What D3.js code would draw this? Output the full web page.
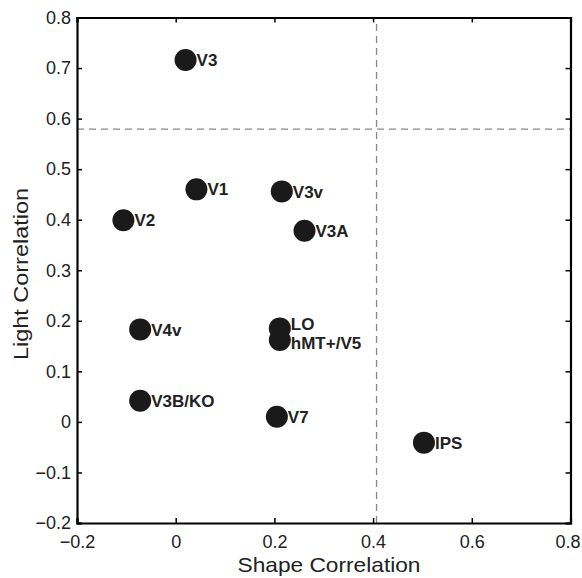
<!DOCTYPE html>
<html>
<head>
<meta charset="utf-8">
<script src="https://cdn.jsdelivr.net/npm/d3@7"></script>
<style>
  body { margin: 0; background: #fff; }
  text { font-family: "Liberation Sans", Arial, sans-serif; }
</style>
</head>
<body>
<div id="chart"></div>
<script>
// region data
var areas = ['V3', 'V1', 'V3v', 'V2', 'V3A', 'V4v', 'LO', 'hMT+/V5', 'V3B/KO', 'V7', 'IPS'];
var shapeCorr = [0.020, 0.042, 0.215, -0.106, 0.261, -0.072, 0.211, 0.211, -0.072, 0.205, 0.503];
var lightCorr = [0.716, 0.460, 0.456, 0.399, 0.378, 0.183, 0.185, 0.162, 0.042, 0.010, -0.041];
var xTicks = [-0.2, 0, 0.2, 0.4, 0.6, 0.8];
var yTicks = [-0.2, -0.1, 0, 0.1, 0.2, 0.3, 0.4, 0.5, 0.6, 0.7, 0.8];
var xThreshold = 0.407;
var yThreshold = 0.579;

var width = 582, height = 578;
var margin = { top: 17.5, right: 11.5, bottom: 55, left: 77 };

var svg = d3.select('#chart')
    .append('svg')
    .attr('width', width)
    .attr('height', height);

var x = d3.scaleLinear().domain([-0.2, 0.8]).range([margin.left, width - margin.right]);
var y = d3.scaleLinear().domain([-0.2, 0.8]).range([height - margin.bottom, margin.top]);

var fmt = function(d) { return d === 0 ? '0' : d3.format('.1f')(d); };

// dashed threshold lines
svg.append('line')
    .attr('x1', x(-0.2)).attr('x2', x(0.8))
    .attr('y1', y(yThreshold)).attr('y2', y(yThreshold))
    .attr('stroke', '#888').attr('stroke-width', 1.3)
    .attr('stroke-dasharray', '7,5');
svg.append('line')
    .attr('x1', x(xThreshold)).attr('x2', x(xThreshold))
    .attr('y1', y(-0.2)).attr('y2', y(0.8))
    .attr('stroke', '#888').attr('stroke-width', 1.3)
    .attr('stroke-dasharray', '7,5');

// axes with inward ticks on all four sides (matlab box)
var tickLen = 5;
svg.append('g')
    .attr('transform', 'translate(0,' + y(-0.2) + ')')
    .call(d3.axisBottom(x).tickValues(xTicks).tickSize(-tickLen).tickPadding(12).tickFormat(fmt))
    .call(function(g) {
        g.selectAll('text').attr('font-size', 18).attr('fill', '#222');
        // keep the last label inside the window
        g.selectAll('text').filter(function(d) { return d === 0.8; }).attr('dx', -3);
    });
svg.append('g')
    .attr('transform', 'translate(0,' + y(0.8) + ')')
    .call(d3.axisTop(x).tickValues(xTicks).tickSize(-tickLen).tickFormat(''));
svg.append('g')
    .attr('transform', 'translate(' + x(-0.2) + ',0)')
    .call(d3.axisLeft(y).tickValues(yTicks).tickSize(-tickLen).tickPadding(6).tickFormat(fmt))
    .call(function(g) {
        g.selectAll('text').attr('font-size', 18).attr('fill', '#222');
    });
svg.append('g')
    .attr('transform', 'translate(' + x(0.8) + ',0)')
    .call(d3.axisRight(y).tickValues(yTicks).tickSize(-tickLen).tickFormat(''));

svg.selectAll('.domain').attr('stroke', '#000').attr('stroke-width', 2.2);
svg.selectAll('.tick line').attr('stroke', '#000').attr('stroke-width', 1.5);

// points
var pts = areas.map(function(a, i) { return { name: a, sx: shapeCorr[i], ly: lightCorr[i] }; });

svg.selectAll('circle.pt')
    .data(pts)
    .enter().append('circle')
    .attr('class', 'pt')
    .attr('cx', function(d) { return x(d.sx); })
    .attr('cy', function(d) { return y(d.ly); })
    .attr('r', 11)
    .attr('fill', '#1a1a1a');

// LO and hMT+/V5 overlap, so their labels are nudged apart
var labelDy = { 'LO': '0.12em', 'hMT+/V5': '0.53em' };

svg.selectAll('text.lbl')
    .data(pts)
    .enter().append('text')
    .attr('class', 'lbl')
    .attr('x', function(d) { return x(d.sx) + 11; })
    .attr('y', function(d) { return y(d.ly); })
    .attr('dy', function(d) { return labelDy[d.name] || '0.36em'; })
    .attr('font-size', 17)
    .attr('font-weight', 'bold')
    .attr('fill', '#222')
    .text(function(d) { return d.name; });

// axis titles
svg.append('text')
    .attr('x', 329)
    .attr('y', 572)
    .attr('text-anchor', 'middle')
    .attr('font-size', 21)
    .attr('textLength', 183)
    .attr('lengthAdjust', 'spacingAndGlyphs')
    .attr('fill', '#222')
    .text('Shape Correlation');
svg.append('text')
    .attr('transform', 'translate(28,274) rotate(-90)')
    .attr('text-anchor', 'middle')
    .attr('font-size', 20)
    .attr('textLength', 172)
    .attr('lengthAdjust', 'spacingAndGlyphs')
    .attr('fill', '#222')
    .text('Light Correlation');
</script>
</body>
</html>
